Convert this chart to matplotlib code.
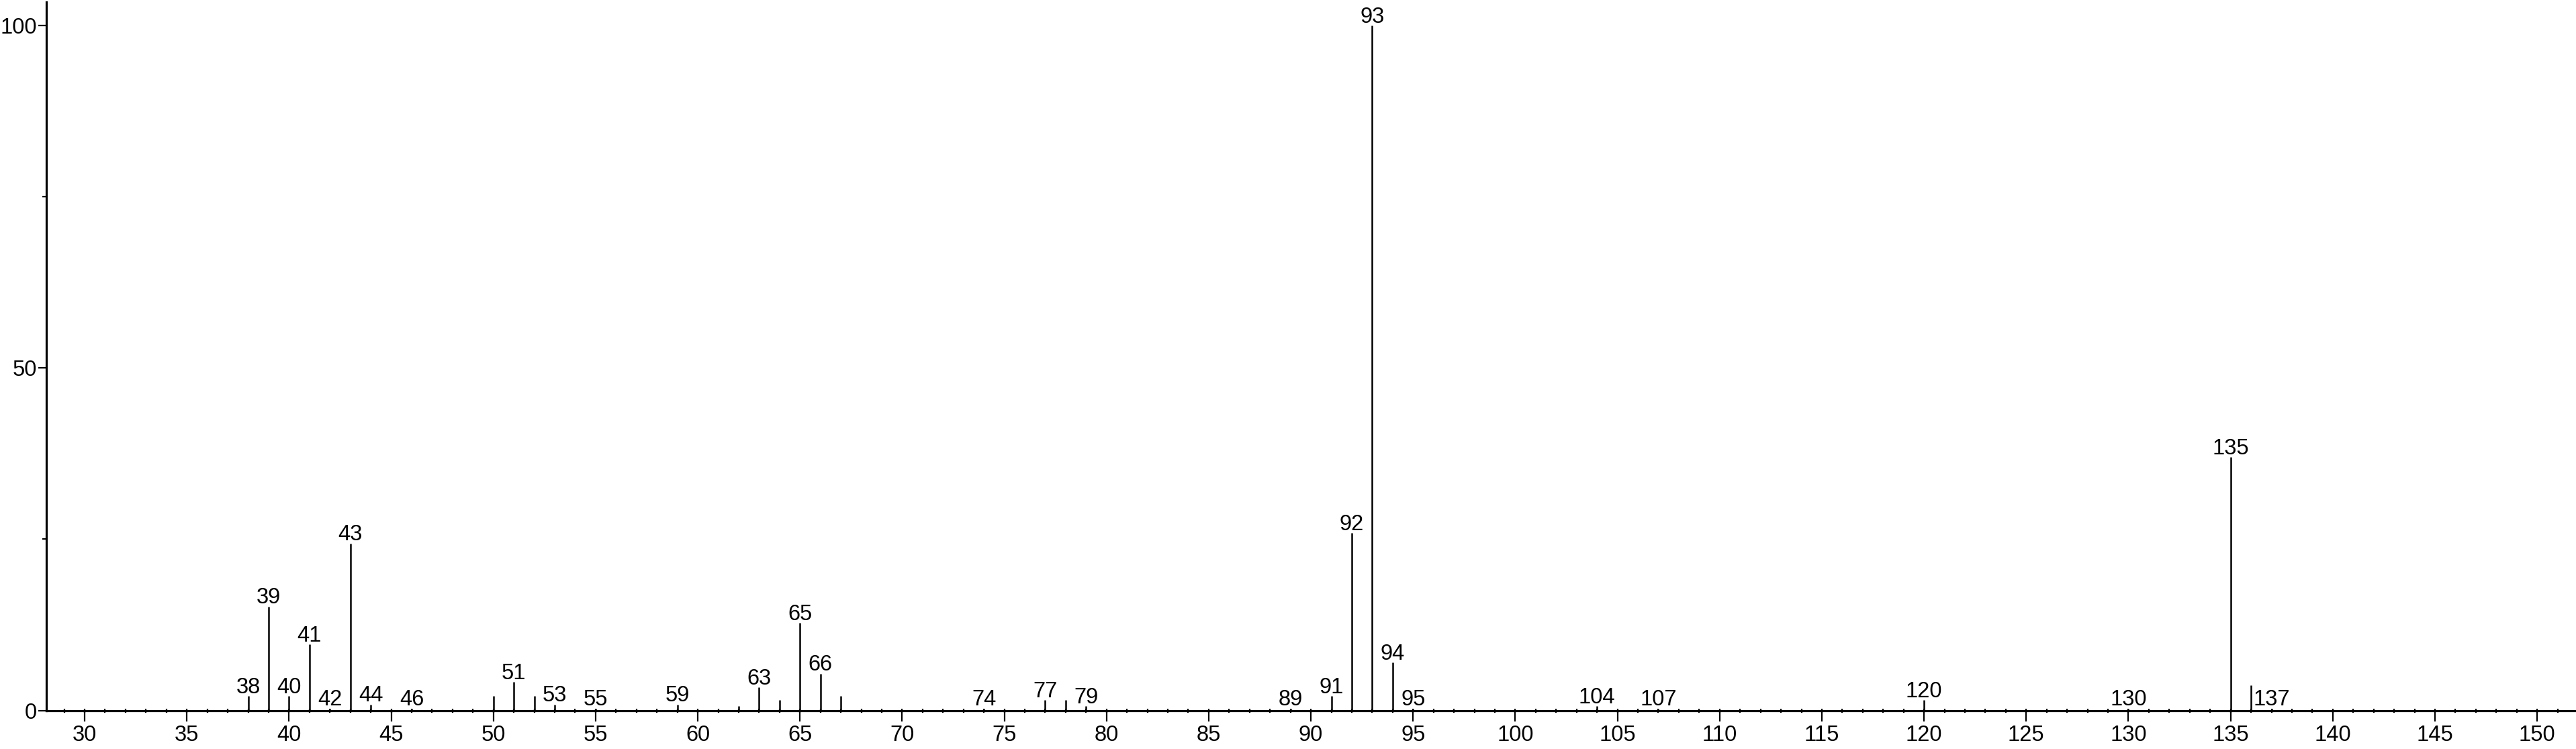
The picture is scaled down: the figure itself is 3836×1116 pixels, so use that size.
import matplotlib
matplotlib.use("Agg")
import matplotlib.pyplot as plt
from matplotlib.ticker import MultipleLocator, FixedLocator

plt.rcParams['font.family'] = ['Liberation Sans', 'DejaVu Sans']

# m/z values and relative intensities (%)
mz = [38, 39, 40, 41, 42, 43, 44, 46, 50, 51, 52, 53, 55, 59, 62, 63, 64, 65,
      66, 67, 74, 77, 78, 79, 89, 91, 92, 93, 94, 95, 104, 107, 120, 130, 135,
      136, 137]
intensity = [2.1, 15.2, 2.1, 9.7, 0.3, 24.4, 0.9, 0.3, 2.1, 4.2, 2.1, 0.9, 0.3,
             0.9, 0.65, 3.4, 1.5, 12.8, 5.4, 2.1, 0.3, 1.5, 1.5, 0.65, 0.3, 2.1,
             25.9, 100.0, 7.0, 0.3, 0.65, 0.3, 1.5, 0.3, 37.0, 3.7, 0.3]
labeled_mz = [38, 39, 40, 41, 42, 43, 44, 46, 51, 53, 55, 59, 63, 65, 66, 74,
              77, 79, 89, 91, 92, 93, 94, 95, 104, 107, 120, 130, 135, 137]

x_ticks = [30, 35, 40, 45, 50, 55, 60, 65, 70, 75, 80, 85, 90, 95, 100, 105,
           110, 115, 120, 125, 130, 135, 140, 145, 150]
y_ticks = [0, 50, 100]

FS = 23.5

fig = plt.figure(figsize=(38.36, 11.16), dpi=100)
ax = fig.add_axes([0.01794, 0.05134, 1 - 0.01794, 0.9973 - 0.05134])

ax.vlines(mz, 0, intensity, colors='black', linewidth=1.8)

lookup = dict(zip(mz, intensity))
for m in labeled_mz:
    ax.annotate(str(m), (m, lookup[m]), xytext=(0, 3), textcoords='offset points',
                ha='center', va='baseline', fontsize=FS, color='black',
                annotation_clip=False)

ax.set_xlim(28.12, 151.9)
ax.set_ylim(0, 103.4)

for s in ['top', 'right']:
    ax.spines[s].set_visible(False)
for s in ['left', 'bottom']:
    ax.spines[s].set_linewidth(2.3)
    ax.spines[s].set_color('black')

ax.xaxis.set_major_locator(FixedLocator(x_ticks))
ax.xaxis.set_minor_locator(MultipleLocator(1))
ax.xaxis.remove_overlapping_locs = False
ax.tick_params(axis='x', which='major', direction='out', length=11.5, width=1.6,
               pad=3.5, labelsize=FS)
ax.tick_params(axis='x', which='minor', direction='inout', length=5, width=1.6)

ax.yaxis.set_major_locator(FixedLocator(y_ticks))
ax.yaxis.set_minor_locator(FixedLocator([25, 75]))
ax.tick_params(axis='y', which='major', direction='out', length=9, width=1.6,
               pad=1, labelsize=FS)
ax.tick_params(axis='y', which='minor', direction='out', length=4.5, width=1.6)

fig.savefig('out.png', dpi=100, facecolor='white')
